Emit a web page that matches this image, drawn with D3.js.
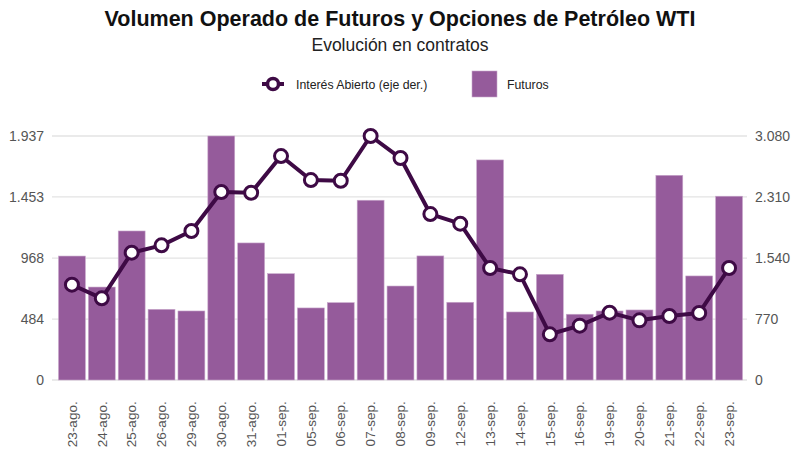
<!DOCTYPE html>
<html><head><meta charset="utf-8">
<script src="https://cdn.jsdelivr.net/npm/d3@7"></script>
<style>body{margin:0;background:#fff}svg{display:block;font-family:"Liberation Sans",Arial,sans-serif}</style>
</head><body><svg id="c" width="800" height="457"></svg>
<script>
const categories = ["23-ago.","24-ago.","25-ago.","26-ago.","29-ago.","30-ago.","31-ago.","01-sep.","05-sep.","06-sep.","07-sep.","08-sep.","09-sep.","12-sep.","13-sep.","14-sep.","15-sep.","16-sep.","19-sep.","20-sep.","21-sep.","22-sep.","23-sep."];
const futuros = [984,738,1183,561,548,1937,1088,844,572,614,1427,746,985,617,1747,540,839,522,548,556,1625,826,1459];
const interesAbierto = [1203,1031,1607,1700,1881,2373,2364,2827,2524,2515,3080,2802,2095,1973,1414,1334,577,686,850,753,808,846,1414];
const leftTicks = [0,484,968,1453,1937];
const rightTicks = [0,770,1540,2310,3080];
const leftMax = 1937, rightMax = 3080;

const svg = d3.select("#c");
const m = {l:57, r:744, t:136, b:380};
const barColor = "#955b9b", lineColor = "#3e0a45";
const fmt = d => d3.format(",")(d).replace(/,/g, ".");

const x = d3.scaleBand().domain(categories).range([m.l, m.r]).paddingInner(0.1).paddingOuter(0.05);
const yL = d3.scaleLinear().domain([0, leftMax]).range([m.b, m.t]);
const yR = d3.scaleLinear().domain([0, rightMax]).range([m.b, m.t]);

// title
svg.append("text").attr("x",400).attr("y",26).attr("text-anchor","middle")
  .style("font-size","21.5px").style("font-weight","bold").attr("fill","#111")
  .text("Volumen Operado de Futuros y Opciones de Petróleo WTI");
svg.append("text").attr("x",400).attr("y",51).attr("text-anchor","middle")
  .style("font-size","17.5px").attr("fill","#222").text("Evolución en contratos");

// grid
svg.append("g").selectAll("line").data(leftTicks).join("line")
  .attr("x1",52).attr("x2",747).attr("y1",d=>yL(d)).attr("y2",d=>yL(d))
  .attr("stroke","#e3e3e3").attr("stroke-width",1.3);

// left axis
const axL = svg.append("g").attr("transform",`translate(${m.l-10},0)`)
  .call(d3.axisLeft(yL).tickValues(leftTicks).tickFormat(fmt).tickSize(0).tickPadding(3));
axL.select(".domain").remove();
axL.selectAll("text").style("font-size","14px").attr("fill","#555").style("font-family","'Liberation Sans',Arial,sans-serif");

// right axis
const axR = svg.append("g").attr("transform",`translate(${m.r+9},0)`)
  .call(d3.axisRight(yR).tickValues(rightTicks).tickFormat(fmt).tickSize(0).tickPadding(2));
axR.select(".domain").remove();
axR.selectAll("text").style("font-size","14px").attr("fill","#555").style("font-family","'Liberation Sans',Arial,sans-serif");

// bars
svg.append("g").selectAll("rect").data(futuros).join("rect")
  .attr("x",(d,i)=>x(categories[i])).attr("width",x.bandwidth())
  .attr("y",d=>yL(d)).attr("height",d=>m.b-yL(d))
  .attr("fill",barColor).attr("stroke","#c9a8cc").attr("stroke-width",0.6);

// x labels
const axX = svg.append("g").attr("transform",`translate(0,${m.b})`)
  .call(d3.axisBottom(x).tickSize(0).tickPadding(0));
axX.select(".domain").remove();
axX.selectAll("text").attr("transform","translate(0,20) rotate(-90)")
  .attr("text-anchor","end").attr("dx","-0.1em").attr("dy","0.35em").attr("y",0)
  .style("font-size","13.5px").attr("fill","#555").style("font-family","'Liberation Sans',Arial,sans-serif");

// line
const cx = (d,i)=>x(categories[i])+x.bandwidth()/2;
svg.append("path").datum(interesAbierto)
  .attr("d", d3.line().x(cx).y(d=>yR(d)))
  .attr("fill","none").attr("stroke",lineColor).attr("stroke-width",4).attr("stroke-linejoin","round");
svg.append("g").selectAll("circle").data(interesAbierto).join("circle")
  .attr("cx",cx).attr("cy",d=>yR(d)).attr("r",6.5)
  .attr("fill","#fff").attr("stroke",lineColor).attr("stroke-width",3);

// legend
const lg = svg.append("g");
lg.append("line").attr("x1",262).attr("x2",284).attr("y1",84).attr("y2",84).attr("stroke",lineColor).attr("stroke-width",4);
lg.append("circle").attr("cx",273).attr("cy",84).attr("r",5.5).attr("fill","#fff").attr("stroke",lineColor).attr("stroke-width",3.5);
lg.append("text").attr("x",296).attr("y",88.5).style("font-size","12.3px").attr("fill","#222").text("Interés Abierto (eje der.)");
lg.append("rect").attr("x",472).attr("y",71).attr("width",25).attr("height",26).attr("fill",barColor).attr("stroke","#c9a8cc").attr("stroke-width",0.6);
lg.append("text").attr("x",507).attr("y",88.5).style("font-size","12.3px").attr("fill","#222").text("Futuros");
</script></body></html>
